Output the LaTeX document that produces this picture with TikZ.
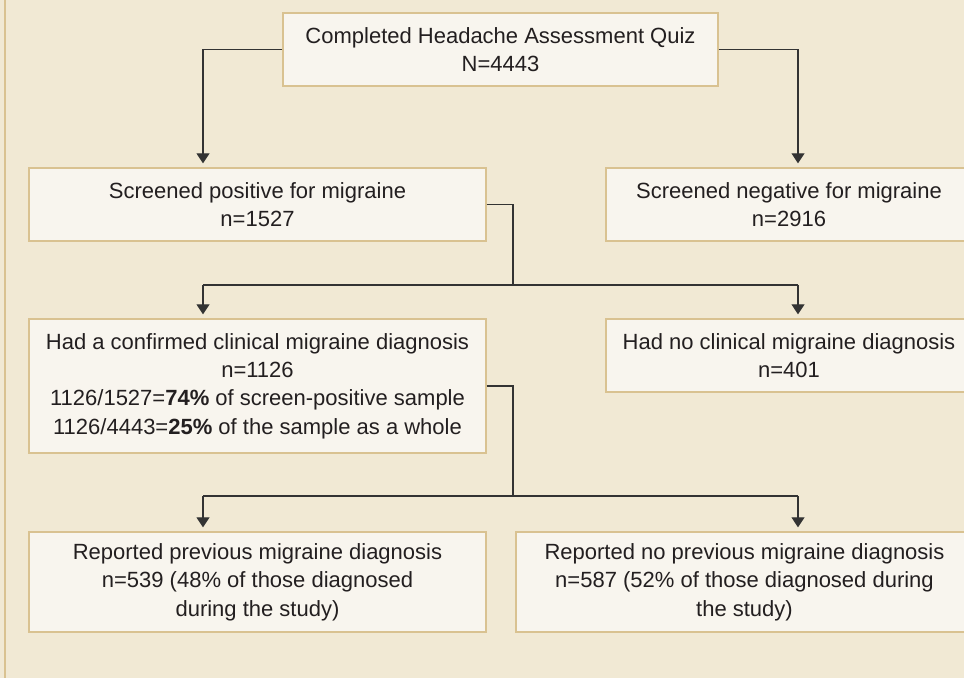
\documentclass[tikz,border=0pt]{standalone}
\usepackage{fontspec}
\setmainfont{Liberation Sans}
\usepackage{tikz}
\usetikzlibrary{arrows.meta}
\definecolor{hgGrund}{HTML}{F1E9D4}
\definecolor{hgKasten}{HTML}{F8F5EE}
\definecolor{hgRand}{HTML}{D9C291}
\definecolor{hgLinie}{HTML}{333333}
\definecolor{hgText}{HTML}{231F20}
\tikzset{
  kasten/.style={draw=hgRand,fill=hgKasten,line width=0.7pt,align=center,inner sep=0pt,
    text=hgText,font=\fontsize{11}{14.2}\selectfont},
  linie/.style={draw=hgLinie,line width=0.55pt},
  pfeil/.style={linie,-{Triangle[width=6.5pt,length=5pt]},shorten >=2pt}
}
\begin{document}
\begin{tikzpicture}[x=0.5pt,y=-0.5pt]
%Alles in Pixeln der Vorlage: 1px = 0.5pt, y zeigt nach unten
\clip (0,0) rectangle (964,678);
\fill[hgGrund] (0,0) rectangle (964,678);
\draw[hgRand,line width=0.7pt] (5,-5) -- (5,690);
%Spalten fuer die Pfeile
\coordinate (lcol) at (203,0);
\coordinate (rcol) at (798,0);
\coordinate (mid) at (513,0);
\coordinate (split1) at (0,285);
\coordinate (split2) at (0,496);
%Kaesten
\node[kasten,minimum width=217.5pt,minimum height=36.5pt] (quiz) at (500.5,49.5)
  {Completed Headache Assessment Quiz\\N=4443};
\node[kasten,minimum width=228.5pt,minimum height=36.5pt] (pos) at (257.5,204.5)
  {Screened positive for migraine\\n=1527};
\node[kasten,minimum width=183pt,minimum height=36.5pt] (neg) at (789,204.5)
  {Screened negative for migraine\\n=2916};
\node[kasten,minimum width=228.5pt,minimum height=67pt] (conf) at (257.5,386)
  {Had a confirmed clinical migraine diagnosis\\n=1126\\
   1126/1527=\textbf{74\%} of screen-positive sample\\
   1126/4443=\textbf{25\%} of the sample as a whole};
\node[kasten,minimum width=183pt,minimum height=36.5pt] (noclin) at (789,355.5)
  {Had no clinical migraine diagnosis\\n=401};
\node[kasten,minimum width=228.5pt,minimum height=50pt] (prev) at (257.5,582)
  {Reported previous migraine diagnosis\\n=539 (48\% of those diagnosed\\during the study)};
\node[kasten,minimum width=228.5pt,minimum height=50pt] (noprev) at (744.5,582)
  {Reported no previous migraine diagnosis\\n=587 (52\% of those diagnosed during\\the study)};
%Verbindungen
\draw[pfeil] (quiz.west) -| (lcol |- pos.north);
\draw[pfeil] (quiz.east) -| (rcol |- neg.north);
\draw[linie] (pos.east) -| (mid |- split1);
\draw[linie] (lcol |- split1) -- (rcol |- split1);
\draw[pfeil] (lcol |- split1) -- (lcol |- conf.north);
\draw[pfeil] (rcol |- split1) -- (rcol |- noclin.north);
\draw[linie] (conf.east) -| (mid |- split2);
\draw[linie] (lcol |- split2) -- (rcol |- split2);
\draw[pfeil] (lcol |- split2) -- (lcol |- prev.north);
\draw[pfeil] (rcol |- split2) -- (rcol |- noprev.north);
\end{tikzpicture}
\end{document}
